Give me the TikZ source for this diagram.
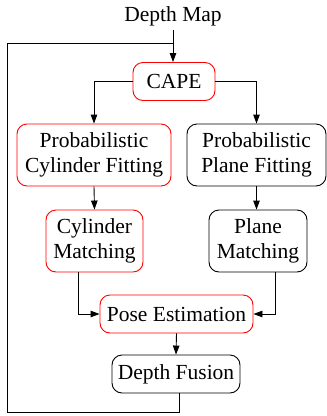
\documentclass[tikz,border=0pt]{standalone}
\usepackage{fontspec}
\setmainfont{Liberation Serif}
\usepackage{tikz}
\usetikzlibrary{arrows.meta}

\begin{document}
\begin{tikzpicture}[x=1pt, y=-1pt, >={Triangle[length=9pt,width=6.5pt]},
    font=\fontsize{21.5}{25}\selectfont, line width=0.9pt,
    box/.style={draw, rounded corners=10pt, align=center, inner sep=0pt,
      minimum height=38pt},
    redbox/.style={box, draw=red}]
  \useasboundingbox (0,0) rectangle (327,416);
  % Input
  \node (depth) at (173,16) {Depth Map};
  % Blocks
  \node[redbox, minimum width=82pt] (cape) at (174,81.5) {CAPE};
  \node[redbox, minimum width=154pt, minimum height=62pt] (cylfit) at (94,155)
    {Probabilistic\\Cylinder Fitting};
  \node[box, minimum width=139pt, minimum height=62pt] (planefit) at (256.5,155)
    {Probabilistic\\Plane Fitting};
  \node[redbox, minimum width=97pt, minimum height=62pt] (cylmatch) at (94.5,241)
    {Cylinder\\Matching};
  \node[box, minimum width=98pt, minimum height=62pt] (planematch) at (258,241)
    {Plane\\Matching};
  \node[redbox, minimum width=153pt] (pose) at (176.5,314) {Pose Estimation};
  \node[box, minimum width=128pt] (fusion) at (176,374) {Depth Fusion};
  % Feedback loop
  \coordinate (loopbl) at (7,412);
  \coordinate (join) at (173,43);
  % Connectors
  \draw[->] (depth.south) -- (depth.south |- cape.north);
  \draw[->] (cape.west) -| (cylfit.north);
  \draw[->] (cape.east) -| (planefit.south |- planefit.north);
  \draw[->] (cylfit.south) -- (cylmatch.north);
  \draw[->] (planefit.south) -- (planefit.south |- planematch.north);
  \draw[->] ([xshift=-16.5pt]cylmatch.south) |- (pose.west);
  \draw[->] ([xshift=17pt]planematch.south) |- (pose.east);
  \draw[->] (pose.south) -- (fusion.north);
  \draw ([xshift=3pt]fusion.south) |- (loopbl) |- (join);
\end{tikzpicture}
\end{document}
